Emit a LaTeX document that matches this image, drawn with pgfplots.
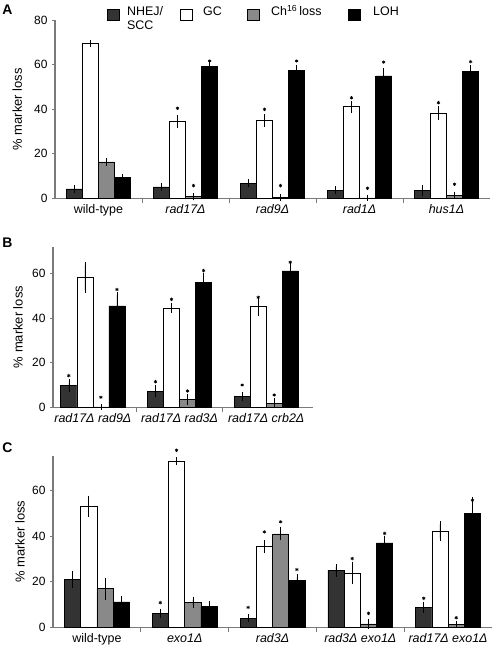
\documentclass[border=0pt]{standalone}
\usepackage{fontspec}
\setmainfont{Liberation Sans}
\usepackage{pgfplots}
\pgfplotsset{compat=1.18}
\definecolor{nhej}{HTML}{333333}
\definecolor{chl}{HTML}{898989}
\definecolor{axgray}{HTML}{7A7A7A}
\pgfplotsset{
 panel/.style={
  scale only axis, clip=false, ymin=0,
  axis x line*=bottom, axis y line*=left,
  axis line style={draw=axgray, line width=1.1bp},
  ybar, bar width=0.185,
  tick align=outside, major tick length=3bp,
  ytick style={draw=axgray, line width=0.8bp},
  xtick style={draw=none},
  /pgf/number format/assume math mode=true,
  yticklabel style={font=\fontsize{12}{13}\selectfont, xshift=-1bp},
  xticklabel style={font=\fontsize{12.5}{14}\selectfont},
  ylabel={\% marker loss},
  ylabel style={font=\fontsize{13}{14}\selectfont},
  extra x tick labels={},
  extra x tick style={xtick style={draw=axgray, line width=0.8bp}, major tick length=5bp},
 },
 bars/.style={draw=black, line width=0.6bp,
  legend image code/.code={\draw[##1, draw=black, line width=0.6bp] (0.3bp,-5bp) rectangle (11.7bp,6bp);},
  error bars/y dir=both, error bars/y explicit,
  error bars/error bar style={black, line width=0.6bp},
  error bars/error mark options={black, line width=0.6bp, mark size=3bp}},
 stars/.style={sharp plot, only marks, mark=asterisk, mark size=1.7bp, black,
  mark options={line width=0.7bp}, forget plot},
}
\newcommand{\lgt}[3]{\makebox[#1][l]{\hspace*{#2}#3}}
\begin{document}
\begin{tikzpicture}
\path[use as bounding box] (0,0) rectangle (496bp,-645bp);
\node[font=\bfseries\fontsize{14}{16}\selectfont] at (7.5bp,-10bp) {A};
\node[font=\bfseries\fontsize{14}{16}\selectfont] at (7.5bp,-243bp) {B};
\node[font=\bfseries\fontsize{14}{16}\selectfont] at (7.5bp,-448bp) {C};
% ---------------- Panel A
\begin{axis}[panel, at={(55bp,-198.3bp)}, anchor=south west,
  width=435bp, height=178.3bp, xmin=-0.5, xmax=4.5, ymax=80,
  ytick={0,20,40,60,80},
  xtick={0,1,2,3,4},
  xticklabels={wild-type,\textit{rad17Δ},\textit{rad9Δ},\textit{rad1Δ},\textit{hus1Δ}},
  extra x ticks={0.5,1.5,2.5,3.5},
  ylabel style={at={(axis description cs:-0.087,0.5)}, anchor=center},
  legend columns=4,
  legend style={draw=none, fill=none, at={(0.1195,1.085)}, anchor=north west,
    inner sep=0pt, nodes={inner sep=0pt}, /tikz/column sep=0pt,
    font=\fontsize{12.5}{14}\selectfont, cells={anchor=base west}},
]
\addplot[bars, fill=nhej, bar shift=-0.2775] coordinates {
 (0,4.2) +- (0,0.3) (1,5.1) +- (0,0.4) (2,6.7) +- (0,0.5) (3,3.6) +- (0,0.4) (4,3.5) +- (0,1.0)};
\addplot[bars, fill=white, bar shift=-0.0925] coordinates {
 (0,69.6) +- (0,0.3) (1,34.4) +- (0,1.6) (2,34.8) +- (0,1.5) (3,41.1) +- (0,1.3) (4,38.1) +- (0,1.8)};
\addplot[bars, fill=chl, bar shift=0.0925] coordinates {
 (0,16.3) +- (0,0.3) (1,0.7) +- (0,0.3) (2,0.5) +- (0,0.2) (3,0.2) +- (0,0.1) (4,1.3) +- (0,0.3)};
\addplot[bars, fill=black, bar shift=0.2775] coordinates {
 (0,9.4) +- (0,0.3) (1,59.1) +- (0,1.6) (2,57.4) +- (0,1.2) (3,54.9) +- (0,2.0) (4,57.1) +- (0,1.2)};
\addplot[stars] coordinates {
 (0.9075,40.4) (1.9075,39.9) (2.9075,45.1) (3.9075,42.9)
 (1.0925,5.7) (2.0925,5.7) (3.0925,4.5) (4.0925,6.3)
 (1.2775,61.6) (2.2775,61.6) (3.2775,61.1) (4.2775,61.3)};
\legend{{\lgt{61bp}{8bp}{\begin{tabular}[t]{@{}l@{}}NHEJ/\\SCC\end{tabular}}},
  {\lgt{55bp}{11bp}{GC}},
  {\lgt{89bp}{12bp}{Ch\textsuperscript{16}\,loss}},
  {\lgt{40bp}{13bp}{LOH}}}
\end{axis}
% ---------------- Panel B
\begin{axis}[panel, at={(53bp,-407.3bp)}, anchor=south west,
  width=260bp, height=160.6bp, xmin=-0.46, xmax=2.54, ymax=72,
  ytick={0,20,40,60},
  xtick={0,1,2},
  xticklabels={\textit{rad17Δ rad9Δ},\textit{rad17Δ rad3Δ},\textit{rad17Δ crb2Δ}},
  extra x ticks={0.5,1.5},
  ylabel style={at={(axis description cs:-0.135,0.5)}, anchor=center},
]
\addplot[bars, fill=nhej, bar shift=-0.2775] coordinates {
 (0,9.7) +- (0,1.5) (1,7.3) +- (0,1.5) (2,4.8) +- (0,0.7)};
\addplot[bars, fill=white, bar shift=-0.0925] coordinates {
 (0,58.1) +- (0,5.5) (1,44.5) +- (0,0.8) (2,45.2) +- (0,2.8)};
\addplot[bars, fill=chl, bar shift=0.0925] coordinates {
 (0,0.2) +- (0,0.1) (1,3.4) +- (0,1.0) (2,1.9) +- (0,1.0)};
\addplot[bars, fill=black, bar shift=0.2775] coordinates {
 (0,45.5) +- (0,4.8) (1,56.1) +- (0,2.8) (2,61.2) +- (0,2.5)};
\addplot[stars] coordinates {
 (-0.2775,14.2) (0.7225,11.5) (1.7225,10.0)
 (0.9075,48.4) (1.9075,49.3)
 (0.0925,4.5) (1.0925,7.3) (2.0925,5.5)
 (0.2775,52.8) (1.2775,61.3) (2.2775,65.0)};
\end{axis}
% ---------------- Panel C
\begin{axis}[panel, at={(53bp,-627.3bp)}, anchor=south west,
  width=439bp, height=171.3bp, xmin=-0.5, xmax=4.5, ymax=75,
  ytick={0,20,40,60},
  xtick={0,1,2,3,4},
  xticklabels={wild-type,\textit{exo1Δ},\textit{rad3Δ},\textit{rad3Δ exo1Δ},\textit{rad17Δ exo1Δ}},
  extra x ticks={0.5,1.5,2.5,3.5},
  ylabel style={at={(axis description cs:-0.075,0.5)}, anchor=center},
]
\addplot[bars, fill=nhej, bar shift=-0.2775] coordinates {
 (0,21.0) +- (0,2.5) (1,6.1) +- (0,0.7) (2,3.9) +- (0,0.4) (3,25.0) +- (0,1.5) (4,8.6) +- (0,1.0)};
\addplot[bars, fill=white, bar shift=-0.0925] coordinates {
 (0,53.0) +- (0,3.3) (1,72.8) +- (0,0.3) (2,35.4) +- (0,1.5) (3,23.7) +- (0,3.6) (4,42.1) +- (0,3.0)};
\addplot[bars, fill=chl, bar shift=0.0925] coordinates {
 (0,16.9) +- (0,3.5) (1,10.9) +- (0,1.2) (2,40.9) +- (0,1.5) (3,1.5) +- (0,1.0) (4,1.3) +- (0,0.3)};
\addplot[bars, fill=black, bar shift=0.2775] coordinates {
 (0,11.1) +- (0,1.5) (1,9.0) +- (0,1.2) (2,20.4) +- (0,1.5) (3,37.0) +- (0,1.8) (4,49.8) +- (0,6.0)};
\addplot[stars] coordinates {
 (0.7225,10.8) (1.7225,8.7) (3.7225,12.7)
 (0.9075,77.5) (1.9075,41.8) (2.9075,30.1)
 (2.0925,46.2) (3.0925,6.1) (4.0925,4.2)
 (2.2775,25.3) (3.2775,41.1) (4.2775,55.6)};
\end{axis}
\end{tikzpicture}
\end{document}
